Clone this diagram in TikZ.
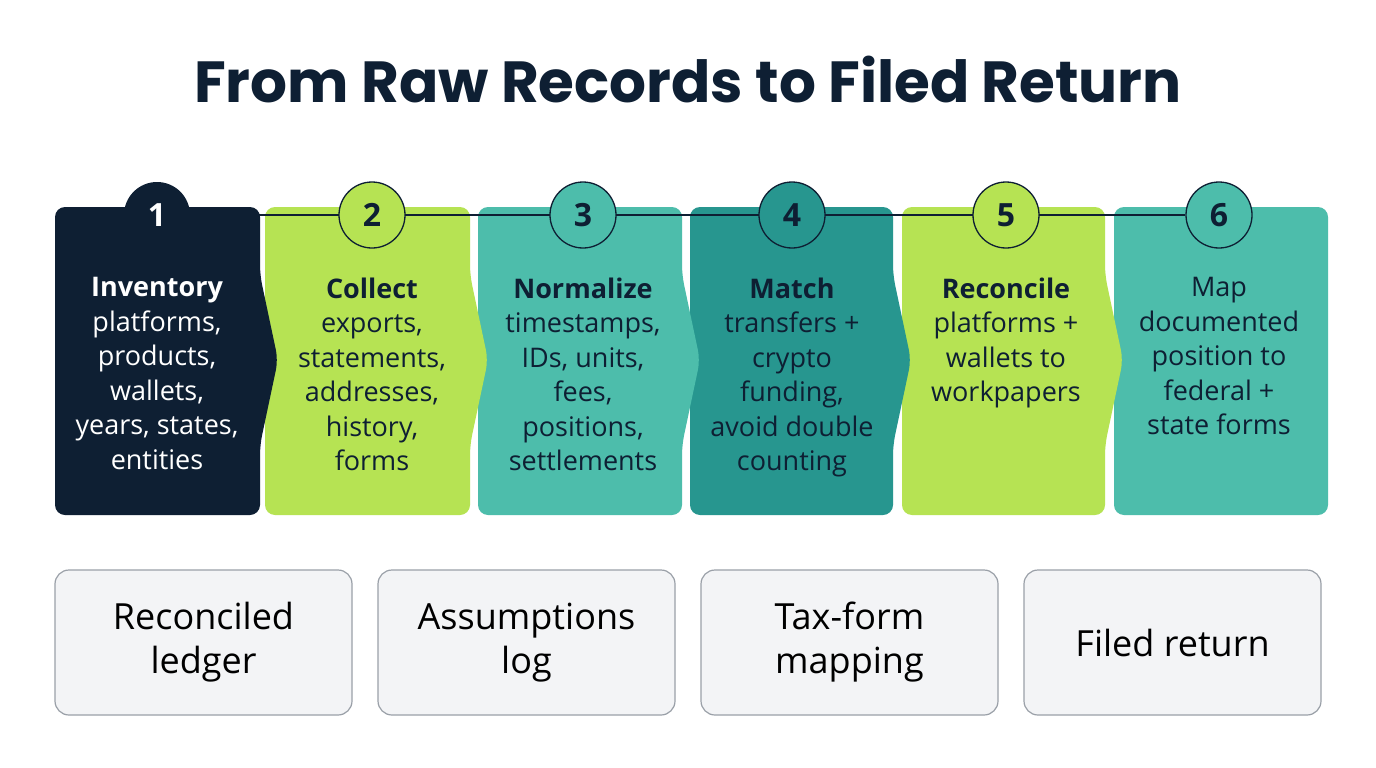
\documentclass[tikz,border=0pt]{standalone}
\usepackage{fontspec}
\setmainfont{Open Sans}
\newfontfamily\titlefont{Poppins}
\definecolor{navy}{HTML}{0E1F33}
\definecolor{lime}{HTML}{B6E353}
\definecolor{teal}{HTML}{4DBDAB}
\definecolor{deepteal}{HTML}{27968F}
\definecolor{boxgray}{HTML}{F3F4F6}
\definecolor{boxline}{HTML}{9AA0A8}
\newcommand\steppanel[3]{% x1, x2, fill
  \fill[#3, rounded corners=10pt] (#1,207) -- (#2,207) -- (#2,275) -- (#2+18,360) -- (#2,445) -- (#2,515) -- (#1,515) -- cycle;}
\tikzset{
  steptext/.style={anchor=north, align=center, font=\fontsize{27}{34.5}\selectfont, text=navy},
  stepnum/.style={circle, minimum size=66pt, inner sep=0pt, draw=navy, line width=1.3pt, font=\fontsize{32}{32}\selectfont\bfseries, text=navy},
  output/.style={draw=boxline, line width=1.2pt, fill=boxgray, rounded corners=14pt, minimum width=297pt, minimum height=145pt, align=center, font=\fontsize{36}{44}\selectfont, text=black}
}
\begin{document}
\begin{tikzpicture}[x=1pt, y=-1pt]
\useasboundingbox[fill=white] (0,0) rectangle (1376,768);
\node (title) at (688,80) {\titlefont\bfseries\fontsize{58}{64}\selectfont\color{navy}From Raw Records to Filed Return};
% panels, drawn right to left so each chevron lies over the next panel
\fill[teal, rounded corners=10pt] (1114,207) rectangle (1328,515);
\steppanel{902}{1105}{lime}
\steppanel{690}{893}{deepteal}
\steppanel{478}{682}{teal}
\steppanel{265}{470}{lime}
\steppanel{55}{260}{navy}
% numbered markers
\coordinate (c1) at (157,215);
\node[stepnum, fill=teal] (c6) at (1219,215) {6};
\draw[navy, line width=1.2pt] (c1) -- (c6);
\node[stepnum, fill=navy, draw=none, text=white] (n1) at (c1) {1};
\node[stepnum, fill=lime] (n2) at (372,215) {2};
\node[stepnum, fill=teal] (n3) at (583,215) {3};
\node[stepnum, fill=deepteal] (n4) at (792,215) {4};
\node[stepnum, fill=lime] (n5) at (1006,215) {5};
% step texts
\node[steptext, text=white] (t1) at (157,274) {\textbf{Inventory}\\platforms,\\products,\\wallets,\\years, states,\\entities};
\node[steptext] (t2) at (372,274) {\textbf{Collect}\\exports,\\statements,\\addresses,\\history,\\forms};
\node[steptext] (t3) at (583,274) {\textbf{Normalize}\\timestamps,\\IDs, units,\\fees,\\positions,\\settlements};
\node[steptext] (t4) at (792,274) {\textbf{Match}\\transfers +\\crypto\\funding,\\avoid double\\counting};
\node[steptext] (t5) at (1006,274) {\textbf{Reconcile}\\platforms +\\wallets to\\workpapers};
\node[steptext] (t6) at (1219,274) {Map\\documented\\position to\\federal +\\state forms};
% outputs
\node[output] (ledger) at (203.5,642.5) {Reconciled\\ledger};
\node[output] (assume) at (526.5,642.5) {Assumptions\\log};
\node[output] (mapping) at (849.5,642.5) {Tax-form\\mapping};
\node[output] (filed) at (1172.5,642.5) {Filed return};
\end{tikzpicture}
\end{document}
